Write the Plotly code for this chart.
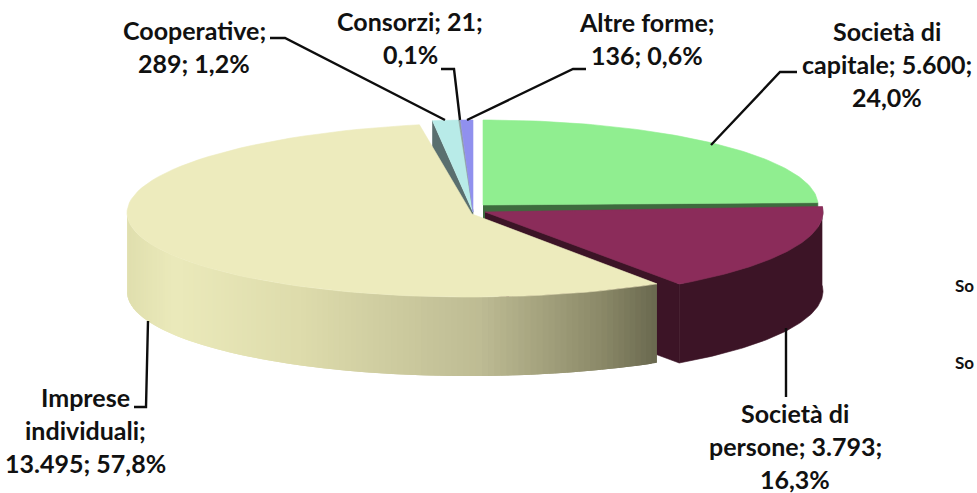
import numpy as np
import plotly.graph_objects as go

# ---- data (clockwise from 12 o'clock)
categories = ["Società di capitale", "Società di persone", "Imprese individuali",
              "Cooperative", "Consorzi", "Altre forme"]
values = [5600, 3793, 13495, 289, 21, 136]
label_lines = [
    ["Società di", "capitale; 5.600;", "24,0%"],
    ["Società di", "persone; 3.793;", "16,3%"],
    ["Imprese", "individuali;", "13.495; 57,8%"],
    ["Cooperative;", "289; 1,2%"],
    ["Consorzi; 21;", "0,1%"],
    ["Altre forme;", "136; 0,6%"],
]

# ---- styles and pseudo-3D geometry
W, H = 977, 493
top_col = ["#90ee90", "#8b2c5a", "#edebbd", "#b8ebe8", "#8f9f9f", "#9090ee"]
side_col = ["#3e6b3e", "#3c1426", None, "#5a6f6f", "#5a6f6f", "#5a6f6f"]
# arc centre x, y, rx, ry, apex x, y, shear and angle nudges (perspective) per slice
geo = [
    dict(cx=483, cy=205, rx=335, ry=85, ax=483, ay=205, sk=0, d0=0, d1=2),
    dict(cx=485, cy=212, rx=338, ry=88, ax=485, ay=212, sk=0, d0=0, d1=0),
    dict(cx=480, cy=210, rx=353, ry=87, ax=472, ay=214, sk=-0.008, d0=5, d1=-3),
    dict(cx=473, cy=212, rx=338, ry=92, ax=473, ay=212, sk=0, d0=0, d1=0),
    dict(cx=473, cy=212, rx=338, ry=92, ax=473, ay=212, sk=0, d0=0, d1=0),
    dict(cx=473, cy=212, rx=338, ry=92, ax=473, ay=212, sk=0, d0=0, d1=0),
]
DEPTH = 79
label_x = [887, 795, 85, 194, 410, 647]
label_y0 = [31, 413, 397, 30, 21, 22]
LINE_H = 33
FONT = 25
leaders = [
    ([797, 780, 711], [72, 72, 145]),
    ([786, 786], [328, 397]),
    ([134, 146, 148], [407, 407, 321]),
    ([270, 285, 445], [38, 38, 120]),
    ([441, 454, 460], [69, 69, 120]),
    ([586, 573, 467], [69, 69, 120]),
]
grad_x = [127, 175, 300, 480, 600, 655]
grad_rgb = [(224, 223, 174), (235, 234, 187), (222, 220, 172), (190, 188, 148), (140, 138, 105), (107, 106, 80)]

# ---- angles from the values
frac = np.array(values, dtype=float) / sum(values)
edges = np.concatenate([[0], np.cumsum(frac) * 360])


def arc(g, t0, t1, n=80):
    t = np.radians(np.linspace(t0, t1, n))
    x = g["cx"] + g["rx"] * np.sin(t)
    return x, g["cy"] - g["ry"] * np.cos(t) + g["sk"] * (x - g["cx"])


fig = go.Figure()


def poly(x, y, color, lw=0.6):
    fig.add_trace(go.Scatter(x=list(x), y=list(y), mode="lines", fill="toself", fillcolor=color,
                             line=dict(color=color, width=lw), hoverinfo="skip", showlegend=False))


def top(i):
    g = geo[i]
    x, y = arc(g, edges[i] + g["d0"], edges[i + 1] + g["d1"])
    poly([g["ax"], *x, g["ax"]], [g["ay"], *y, g["ay"]], top_col[i])


# small back slices: cut face, then their tops
g = geo[3]
ex, ey = arc(g, edges[3], edges[3], 1)
poly([ex[0], ex[0], g["ax"], g["ax"]], [ey[0], ey[0] + DEPTH, g["ay"] + DEPTH, g["ay"]], side_col[3])

# green: side sliver + top
g = geo[0]
ex, ey = arc(g, edges[1] + g["d1"], edges[1] + g["d1"], 1)
poly([g["ax"], ex[0], ex[0], g["ax"]], [g["ay"], ey[0], ey[0] + DEPTH, g["ay"] + DEPTH], side_col[0])
top(0)

# maroon: outer wall, cut face, top
g = geo[1]
x, y = arc(g, edges[1], edges[2])
poly([*x, *x[::-1]], [*y, *(y[::-1] + DEPTH)], side_col[1])
poly([g["ax"], x[-1], x[-1], g["ax"]], [g["ay"], y[-1], y[-1] + DEPTH, g["ay"] + DEPTH], side_col[1])
top(1)

# cream wall as overlapping gradient strips, front-facing part only
g = geo[2]
x, y = arc(g, edges[2] + g["d0"], 270, 122)
for j in range(len(x) - 2):
    xm = (x[j] + x[j + 1]) / 2
    rgb = [int(np.interp(xm, grad_x, [c[k] for c in grad_rgb])) for k in range(3)]
    poly([x[j], *x[j + 1:j + 3], *x[j + 1:j + 3][::-1], x[j]],
         [y[j], *y[j + 1:j + 3], *(y[j + 1:j + 3][::-1] + DEPTH), y[j] + DEPTH],
         f"rgb({rgb[0]},{rgb[1]},{rgb[2]})", lw=0)
top(2)

top(3)
top(4)
top(5)

# leader lines
for lx, ly in leaders:
    fig.add_trace(go.Scatter(x=lx, y=ly, mode="lines", line=dict(color="#0d0d0d", width=2.4),
                             hoverinfo="skip", showlegend=False))


def note(x, y, s, anchor="center", size=FONT):
    fig.add_annotation(x=x, y=y, text=s, showarrow=False, xanchor=anchor, yanchor="middle",
                       font=dict(family="Lato", size=size, color="#111111", weight="bold"))


for i, lines in enumerate(label_lines):
    for k, s in enumerate(lines):
        note(label_x[i], label_y0[i] + k * LINE_H, s)

# legend remnants at the right edge of the picture
note(976, 285, "So", "right", 17)
note(976, 362, "So", "right", 17)

fig.update_layout(
    width=W, height=H, margin=dict(l=0, r=0, t=0, b=0),
    paper_bgcolor="white", plot_bgcolor="white", showlegend=False,
    xaxis=dict(range=[0, W], visible=False, fixedrange=True),
    yaxis=dict(range=[H, 0], visible=False, fixedrange=True),
)
fig.write_html("out.html", post_script="document.body.style.margin='0';",
               config={"displayModeBar": False})
